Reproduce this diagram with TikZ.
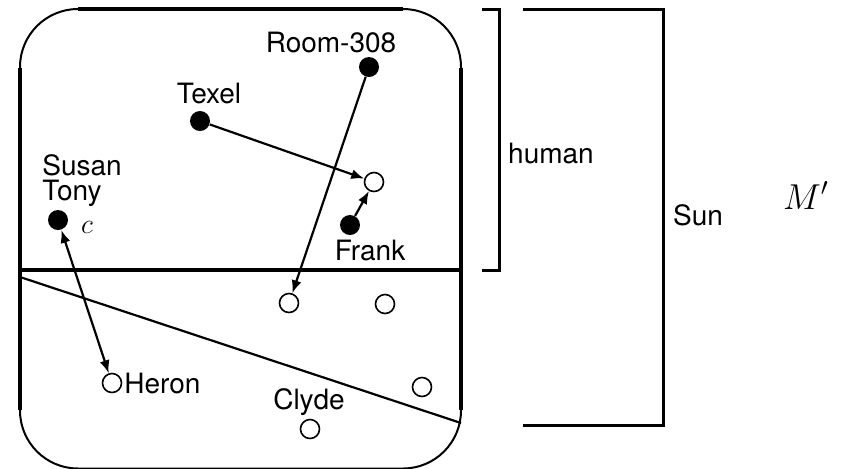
\RequirePackage{fix-cm}
\documentclass[tikz,border=0pt]{standalone}
\usepackage[no-math]{fontspec}
\setmainfont{TeX Gyre Heros}
\usetikzlibrary{arrows.meta}
\begin{document}
\begin{tikzpicture}[x=0.5pt,y=-0.5pt,
  lbl/.style={font=\fontsize{14}{16}\selectfont, inner sep=0pt},
  fdot/.style={circle, fill=black, minimum size=10pt, inner sep=0pt},
  odot/.style={circle, draw, line width=0.8pt, fill=white, minimum size=9.5pt, inner sep=0pt},
  conn/.style={line width=1.1pt},
  arr/.style={conn, -{Latex[length=6.5pt,width=5pt]}},
  darr/.style={conn, {Latex[length=6.5pt,width=5pt]}-{Latex[length=6.5pt,width=5pt]}},
  side/.style={line width=1.6pt},
  brk/.style={line width=1.5pt},
]
\useasboundingbox (0,0) rectangle (841,468);
% frame
\draw[line width=1pt, rounded corners=29pt] (20,9) rectangle (461,468.5);
\draw[side] (20,68) -- (20,410);
\draw[side] (461,68) -- (461,410);
\draw[side] (78,9) -- (403,9);
\coordinate (divL) at (20,270);
\coordinate (divR) at (461,270);
\draw[side] (divL) -- (divR);
\coordinate (diagL) at (20,277);
\coordinate (diagR) at (461,423);
\draw[line width=1.1pt] (diagL) -- (diagR);
% nodes
\node[fdot] (room) at (369,67) {};
\node[lbl, anchor=base] (roomL) at (331,52) {Room-308};
\node[fdot] (texel) at (200,121) {};
\node[lbl, anchor=base] (texelL) at (209,103) {Texel};
\node[odot] (cA) at (374,182) {};
\node[fdot] (frank) at (350,225) {};
\node[lbl, anchor=base] (frankL) at (370,260) {Frank};
\node[fdot] (susan) at (58,220) {};
\node[lbl, anchor=base west] (susanL) at (42,175) {Susan};
\node[lbl, anchor=base west] (tonyL) at (42,200) {Tony};
\node[anchor=base, inner sep=0pt, font=\fontsize{14}{16}\selectfont] (cL) at (87,233) {$c$};
\node[odot] (heron) at (112,383) {};
\node[lbl, anchor=west] (heronL) at (124,383) {Heron};
\node[odot] (cB) at (289,303) {};
\node[odot] (cC) at (385,304) {};
\node[odot] (cD) at (422,387) {};
\node[odot] (clyde) at (310,429) {};
\node[lbl, anchor=base] (clydeL) at (309,409) {Clyde};
% brackets
\draw[brk] (482,9) -- (499,9) -- (499,270) -- (482,270);
\node[lbl, anchor=base] (human) at (551,163) {human};
\draw[brk] (523,9) -- (663,9) -- (663,425) -- (523,425);
\node[lbl, anchor=base] (sun) at (698,225) {Sun};
\node[anchor=base, inner sep=0pt, font=\fontsize{18}{20}\selectfont] (mp) at (806,209) {$M'$};
% connectors
\draw[arr] (texel) -- (cA);
\draw[arr] (frank) -- (cA);
\draw[arr] (room) -- (cB);
\draw[darr] (susan) -- (heron);
\end{tikzpicture}
\end{document}
